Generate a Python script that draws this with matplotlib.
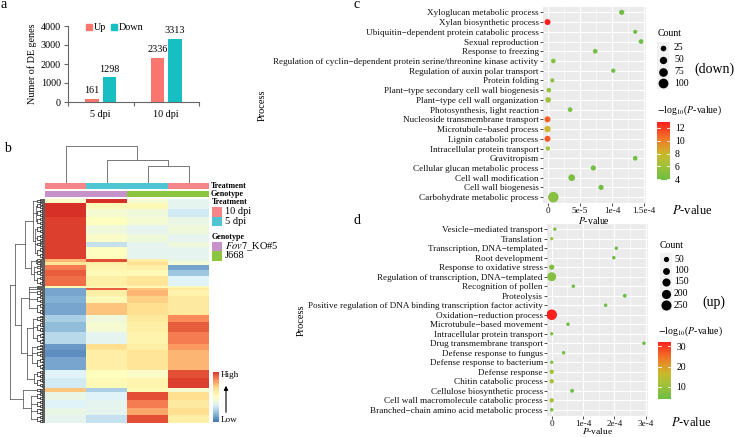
import numpy as np
import matplotlib
matplotlib.use('Agg')
import matplotlib.pyplot as plt
from matplotlib.colors import LinearSegmentedColormap
from matplotlib.patches import Rectangle

plt.rcParams['font.family'] = ['Liberation Serif', 'DejaVu Serif']
plt.rcParams['mathtext.fontset'] = 'stix'

# ---------------- data ----------------
# panel a
dpi_labels = ['5 dpi', '10 dpi']
up_counts = [161, 2336]
down_counts = [1298, 3313]

# panel b heatmap (row blocks, z-scores per sample column)
block_rows = [4, 6, 8, 8, 9, 8, 5, 12, 3, 3, 5, 6, 10, 2, 2, 6, 7, 13, 7, 10, 12, 6, 7, 13,
              8, 10, 4, 8, 8, 7, 8]
heat_col1 = [-0.1, 1.8, 1.8, 1.7, 1.7, 1.7, 1.7, 1.7, 0.9, 0.5, 1.3, 1.5, 1.4, 0.05, -1.4, -1.4,
             -1.3, -1.4, -1.0, -1.2, -0.9, -1.5, -1.6, -1.4, -0.6, -0.7, 0.8, -0.4, -0.6, -0.4, -0.5]
heat_col2 = [1.8, 0.1, -0.2, 0.0, -0.3, -0.1, -0.8, 0.0, 1.6, 0.3, 0.2, 0.1, 0.3, 0.1, 1.5, 0.3,
             0.1, 0.8, -0.3, -0.2, -0.5, 0.6, 0.3, 0.3, 0.0, 0.1, -1.0, -0.6, -0.5, -0.5, -0.8]
heat_col3 = [-0.2, 0.1, -0.3, -0.2, -0.5, -0.3, -0.5, -0.5, 0.3, 0.6, 0.3, 0.1, 0.5, 0.1, 0.8, 0.9,
             0.7, 0.6, 0.4, 0.3, 0.2, 0.3, 0.5, 0.5, -0.1, 0.2, 0.1, 1.6, 1.3, 1.0, 1.6]
heat_col4 = [-0.5, -0.5, -0.7, -0.4, -0.3, -0.5, -0.3, -0.5, -0.4, -0.2, -1.4, -1.1, -0.6, 0.1,
             0.4, 0.2, 0.4, 0.4, 1.2, 1.5, 1.3, 1.1, 0.9, 0.9, 1.6, 1.7, -0.2, 0.6, 0.4, 0.6, 0.3]
treatment = ['10 dpi', '5 dpi', '5 dpi', '10 dpi']
genotype = ['Fov7_KO#5', 'Fov7_KO#5', 'J668', 'J668']
# row dendrogram (height, children); ints are block indices
row_tree = (35, [
    (30, [
        (20, [(12, [0, (9, [1, 2, 3]), (10, [4, 5, 6, 7])]), (14, [(9, [8, 9]), (11, [10, 11, 12])])]),
        (24, [(16, [13, 14, 15, 16, 17]), (18, [(12, [18, 19, 20]), (13, [21, 22, 23]), (11, [24, 25])])]),
    ]),
    (22, [(10, [26]), (14, [27, 28, 29, 30])]),
])
# column dendrogram merge heights: (col3,col4), (col2,[3,4]), root
col_merge_h = [17, 23, 37]

# panel c (down)
c_terms = ['Xyloglucan metabolic process', 'Xylan biosynthetic process',
           'Ubiquitin\u2212dependent protein catabolic process', 'Sexual reproduction',
           'Response to freezing',
           'Regulation of cyclin\u2212dependent protein serine/threonine kinase activity',
           'Regulation of auxin polar transport', 'Protein folding',
           'Plant\u2212type secondary cell wall biogenesis', 'Plant\u2212type cell wall organization',
           'Photosynthesis, light reaction', 'Nucleoside transmembrane transport',
           'Microtubule\u2212based process', 'Lignin catabolic process',
           'Intracellular protein transport', 'Gravitropism',
           'Cellular glucan metabolic process', 'Cell wall modification',
           'Cell wall biogenesis', 'Carbohydrate metabolic process']
c_pvalue = [1.15e-4, 0.0, 1.36e-4, 1.45e-4, 7.4e-5, 0.9e-5, 1.02e-4, 0.75e-5, 0.2e-5, 0.1e-5,
            3.5e-5, 0.0, 0.0, 0.0, 0.05e-5, 1.36e-4, 7.1e-5, 3.75e-5, 8.3e-5, 0.9e-5]
c_neglog = [3.95, 12.9, 3.9, 3.9, 4.13, 5.05, 3.99, 5.1, 5.7, 6.0, 4.46, 11.0, 8.0, 11.2,
            6.2, 3.9, 4.15, 4.43, 4.08, 5.05]
c_count = [20, 30, 10, 15, 15, 15, 12, 10, 15, 25, 15, 30, 35, 30, 12, 15, 20, 40, 20, 120]

# panel d (up)
d_terms = ['Vesicle\u2212mediated transport', 'Translation', 'Transcription, DNA\u2212templated',
           'Root development', 'Response to oxidative stress',
           'Regulation of transcription, DNA\u2212templated', 'Recognition of pollen', 'Proteolysis',
           'Positive regulation of DNA binding transcription factor activity',
           'Oxidation\u2212reduction process', 'Microtubule\u2212based movement',
           'Intracellular protein transport', 'Drug transmembrane transport',
           'Defense response to fungus', 'Defense response to bacterium', 'Defense response',
           'Chitin catabolic process', 'Cellulose biosynthetic process',
           'Cell wall macromolecule catabolic process',
           'Branched\u2212chain amino acid metabolic process']
d_pvalue = [0.1e-4, 0.0, 2.06e-4, 1.98e-4, 0.0, 0.0, 0.69e-4, 2.33e-4, 1.72e-4, 0.0, 0.52e-4,
            0.0, 2.94e-4, 0.38e-4, 0.0, 0.0, 0.0, 0.65e-4, 0.0, 0.0]
d_neglog = [5.0, 10.0, 3.9, 3.9, 6.5, 7.0, 4.16, 3.9, 3.9, 32.2, 4.28, 5.5, 3.9, 4.42, 5.5,
            11.0, 12.0, 4.19, 12.0, 5.5]
d_count = [12, 12, 15, 15, 50, 190, 15, 20, 15, 280, 15, 12, 15, 15, 12, 30, 30, 20, 30, 15]

# ---------------- figure ----------------
W, H = 735, 437
fig = plt.figure(figsize=(7.35, 4.37), dpi=100)


def ax_px(x0, y0, x1, y1, **kw):
    return fig.add_axes([x0 / W, 1 - y1 / H, (x1 - x0) / W, (y1 - y0) / H], **kw)


ov = fig.add_axes([0, 0, 1, 1], zorder=10)
ov.set_xlim(0, W)
ov.set_ylim(H, 0)
ov.axis('off')
ov.patch.set_visible(False)

UP_C, DOWN_C = '#F8766D', '#17BEC2'
FA = 7.3

# ---------- panel a ----------
axa = ax_px(68, 26, 199, 102)
xc = np.arange(len(dpi_labels)) + 0.5
axa.bar(xc - 0.135, up_counts, width=0.21, color=UP_C)
axa.bar(xc + 0.135, down_counts, width=0.21, color=DOWN_C)
for x, v in zip(xc - 0.135, up_counts):
    axa.text(x, v + 200, str(v), ha='center', va='bottom', fontsize=FA)
for x, v in zip(xc + 0.135, down_counts):
    axa.text(x, v + 200, str(v), ha='center', va='bottom', fontsize=FA)
axa.set_xlim(0, 2)
axa.set_ylim(0, 4000)
axa.set_yticks([0, 1000, 2000, 3000, 4000])
axa.set_xticks([0, 1, 2])
axa.set_xticklabels([])
axa.set_xticks(xc, minor=True)
axa.set_xticklabels(dpi_labels, minor=True, fontsize=FA)
axa.tick_params(axis='x', which='minor', length=0, pad=6)
axa.tick_params(axis='x', which='major', length=3, color='#666')
axa.tick_params(axis='y', length=3, color='#666', labelsize=FA, pad=2)
for s in ['top', 'right']:
    axa.spines[s].set_visible(False)
for s in ['left', 'bottom']:
    axa.spines[s].set_color('#666')
    axa.spines[s].set_linewidth(0.8)
axa.set_ylabel('Numer of DE genes', fontsize=FA, labelpad=3)
# legend
ov.add_patch(Rectangle((86, 23.5), 6, 6, color=UP_C))
ov.text(93.5, 27, 'Up', fontsize=FA, va='center')
ov.add_patch(Rectangle((111, 23.5), 6, 6, color=DOWN_C))
ov.text(118.5, 27, 'Down', fontsize=FA, va='center')

# ---------- panel b ----------
pal7 = ['#4575B4', '#91BFDB', '#E0F3F8', '#FFFFBF', '#FEE090', '#FC8D59', '#D73027']
heat_cmap = LinearSegmentedColormap.from_list('rdylbu7', pal7)
mat = np.column_stack([np.repeat(heat_col1, block_rows), np.repeat(heat_col2, block_rows),
                       np.repeat(heat_col3, block_rows), np.repeat(heat_col4, block_rows)])
nrows = mat.shape[0]
axh = ax_px(45.3, 199, 209, 423)
axh.imshow(mat, aspect='auto', cmap=heat_cmap, vmin=-1.8, vmax=1.8, interpolation='nearest',
           extent=(0, 4, nrows, 0))
axh.set_xticks([])
axh.set_yticks([])
for s in axh.spines.values():
    s.set_visible(False)

# annotation bars
ann_cols = {'10 dpi': '#F4868A', '5 dpi': '#4FC4D2', 'Fov7_KO#5': '#C592C9', 'J668': '#8CC63F'}
axan = ax_px(45.3, 183, 209, 197)
axan.set_xlim(0, 4)
axan.set_ylim(197, 183)
axan.axis('off')
for i, (t, g) in enumerate(zip(treatment, genotype)):
    axan.add_patch(Rectangle((i, 183), 1, 6, color=ann_cols[t], lw=0))
    axan.add_patch(Rectangle((i, 191), 1, 6, color=ann_cols[g], lw=0))
ov.text(211, 186, 'Treatment', fontsize=5.8, fontweight='bold', va='center')
ov.text(211, 194, 'Genotype', fontsize=5.8, fontweight='bold', va='center')

# column dendrogram
axcd = ax_px(45.3, 143, 209, 183)
axcd.set_xlim(0, 4)
axcd.set_ylim(0, 40)
axcd.axis('off')
dk = dict(color='#777777', lw=0.7)
h34, h234, hroot = col_merge_h
axcd.plot([2.5, 2.5, 3.5, 3.5], [0, h34, h34, 0], **dk)
axcd.plot([1.5, 1.5, 3.0, 3.0], [0, h234, h234, h34], **dk)
axcd.plot([0.5, 0.5, 2.25, 2.25], [0, hroot, hroot, h234], **dk)

# row dendrogram
axrd = ax_px(8, 199, 45.3, 423)
axrd.set_xlim(-37.3, 0)
axrd.set_ylim(nrows, 0)
axrd.axis('off')
starts = np.concatenate([[0], np.cumsum(block_rows)[:-1]])


def draw_block(s, n, h):
    if n == 1:
        return s + 0.5, 0.0
    n1 = n // 2
    y1, h1 = draw_block(s, n1, h * 0.66)
    y2, h2 = draw_block(s + n1, n - n1, h * 0.66)
    axrd.plot([-h1, -h, -h, -h2], [y1, y1, y2, y2], color='#000000', lw=0.45)
    return (y1 + y2) / 2, h


def draw_node(node):
    if isinstance(node, int):
        return draw_block(starts[node], block_rows[node], 8.5)
    h, kids = node
    res = [draw_node(k) for k in kids]
    ys = [r[0] for r in res]
    for y, hh in res:
        axrd.plot([-hh, -h], [y, y], color='#444444', lw=0.5)
    axrd.plot([-h, -h], [min(ys), max(ys)], color='#444444', lw=0.5)
    return (min(ys) + max(ys)) / 2, h


draw_node(row_tree)

# heatmap legends
ov.text(212, 202, 'Treatment', fontsize=5.8, fontweight='bold', va='center')
ov.add_patch(Rectangle((212, 207), 10, 9.5, color=ann_cols['10 dpi'], lw=0))
ov.text(225, 212, '10 dpi', fontsize=7.5, va='center')
ov.add_patch(Rectangle((212, 216.5), 10, 9.5, color=ann_cols['5 dpi'], lw=0))
ov.text(225, 221.5, '5 dpi', fontsize=7.5, va='center')
ov.text(212, 237, 'Genotype', fontsize=5.8, fontweight='bold', va='center')
ov.add_patch(Rectangle((212, 241.5), 10, 9.5, color=ann_cols['Fov7_KO#5'], lw=0))
ov.text(225, 246.5, r'$\mathit{Fov7}$_KO#5', fontsize=7.5, va='center')
ov.add_patch(Rectangle((212, 251), 10, 9.5, color=ann_cols['J668'], lw=0))
ov.text(225, 256, 'J668', fontsize=7.5, va='center')

axhc = ax_px(212.7, 372, 218.3, 422)
axhc.imshow(np.linspace(1.8, -1.8, 100).reshape(-1, 1), aspect='auto', cmap=heat_cmap,
            vmin=-1.8, vmax=1.8, extent=(0, 1, 0, 1))
axhc.axis('off')
ov.text(221, 375, 'High', fontsize=6.6, va='center')
ov.text(221, 420, 'Low', fontsize=6.6, va='center')
ov.annotate('', xy=(226, 383), xytext=(226, 415),
            arrowprops=dict(arrowstyle='-|>', lw=0.8, color='black', mutation_scale=6))

# ---------- panels c, d ----------
dot_cmap = LinearSegmentedColormap.from_list(
    'gr', [(0, '#6EBE44'), (0.25, '#A2C23A'), (0.45, '#CBB82C'), (0.7, '#F07A28'), (1, '#FF1E1E')])


def dot_panel(box, terms, pv, neglog, cnt, vlim, xlim, xt, xtl, sz):
    ax = ax_px(*box)
    ax.set_facecolor('#EBEBEB')
    y = np.arange(len(terms))
    ax.set_xlim(*xlim)
    ax.set_ylim(len(terms) - 0.4, -0.6)
    for s in ax.spines.values():
        s.set_visible(False)
    for xv in xt:
        ax.axvline(xv, color='white', lw=0.8, zorder=1)
    for a, b in zip(xt[:-1], xt[1:]):
        ax.axvline((a + b) / 2, color='white', lw=0.4, zorder=1)
    for yy in y:
        ax.axhline(yy, color='white', lw=0.8, zorder=1)
    diam = np.array([sz(c) for c in cnt]) * 0.72
    ax.scatter(pv, y, s=diam ** 2, c=neglog, cmap=dot_cmap, vmin=vlim[0], vmax=vlim[1],
               zorder=3, linewidths=0)
    ax.set_yticks(y)
    ax.set_yticklabels(terms, fontsize=6.6, color='#111')
    ax.set_xticks(xt)
    ax.set_xticklabels(xtl, fontsize=6.6, color='#111')
    ax.tick_params(length=2.2, width=0.6, color='#333', pad=1.0)
    return ax


def size_c(c):
    return 1.12 * (1.3 + 0.74 * np.sqrt(c))


def size_d(c):
    return 1.12 * (1.23 + 0.49 * np.sqrt(c))


c_vlim = (3.9, 12.9)
d_vlim = (3.85, 32.2)
axc = dot_panel((543, 6.5, 646, 203), c_terms, c_pvalue, c_neglog, c_count, c_vlim,
                (-0.07e-4, 1.527e-4), [0, 5e-5, 1e-4, 1.5e-4], ['0', '5e-5', '1e-4', '1.5e-4'], size_c)
axd = dot_panel((547.3, 223.5, 648, 415.5), d_terms, d_pvalue, d_neglog, d_count, d_vlim,
                (-0.14e-4, 3.07e-4), [0, 1e-4, 2e-4, 3e-4], ['0', '1e-4', '2e-4', '3e-4'], size_d)

ov.text(594, 221, r'$P$-value', fontsize=7, ha='center', va='center')
ov.text(598, 431.5, r'$P$-value', fontsize=6.8, ha='center', va='center')
ov.text(672, 211, r'$P$-value', fontsize=9, ha='left', va='center')
ov.text(671, 423, r'$P$-value', fontsize=9, ha='left', va='center')
ov.text(262, 105, 'Process', fontsize=7.5, rotation=90, ha='center', va='center')
ov.text(301.5, 320, 'Process', fontsize=7.5, rotation=90, ha='center', va='center')
ov.text(714, 69, '(down)', fontsize=10, ha='center', va='center')
ov.text(714, 302, '(up)', fontsize=10, ha='center', va='center')


def size_legend(title_xy, keys_x, label_x, ys, breaks, sz):
    ov.text(title_xy[0], title_xy[1], 'Count', fontsize=7, va='center')
    for yy, b in zip(ys, breaks):
        ov.add_patch(Rectangle((keys_x - 6, yy - 5.8), 12, 11.6, color='#F2F2F2', lw=0))
        ov.scatter([keys_x], [yy], s=(sz(b) * 0.72) ** 2, color='black', linewidths=0)
        ov.text(label_x, yy, str(b), fontsize=7, va='center')


size_legend((658, 33), 663.5, 674, [48, 60, 71.5, 83], [25, 50, 75, 100], size_c)
size_legend((660, 245), 666, 674, [259, 270.5, 282, 293.5, 305], [50, 100, 150, 200, 250], size_d)


def color_bar(box, vlim, ticks, title_xy):
    ax = ax_px(*box)
    ax.imshow(np.linspace(vlim[1], vlim[0], 200).reshape(-1, 1), aspect='auto', cmap=dot_cmap,
              vmin=vlim[0], vmax=vlim[1], extent=(0, 1, vlim[0], vlim[1]))
    ax.set_xticks([])
    ax.set_yticks(ticks)
    ax.yaxis.tick_right()
    ax.set_yticklabels([str(t) for t in ticks], fontsize=7)
    ax.tick_params(axis='y', length=0, pad=4)
    for t in ticks:
        ax.plot([0, 0.2], [t, t], color='white', lw=0.6)
        ax.plot([0.8, 1], [t, t], color='white', lw=0.6)
    ax.set_xlim(0, 1)
    ax.set_ylim(*vlim)
    for s in ax.spines.values():
        s.set_visible(False)
    ov.text(title_xy[0], title_xy[1], r'$-$log$_{10}$($P$-value)', fontsize=7, va='center')


color_bar((657, 122, 669.5, 180), c_vlim, [4, 6, 8, 10, 12], (657, 110))
color_bar((658, 342, 671, 399), d_vlim, [10, 20, 30], (658, 331))

# panel letters
ov.text(4, 5, 'a', fontsize=10, ha='center', va='center')
ov.text(7, 149, 'b', fontsize=10, ha='center', va='center')
ov.text(357, 5, 'c', fontsize=10, ha='center', va='center')
ov.text(357, 221, 'd', fontsize=10, ha='center', va='center')

fig.savefig('out.png', dpi=100)
